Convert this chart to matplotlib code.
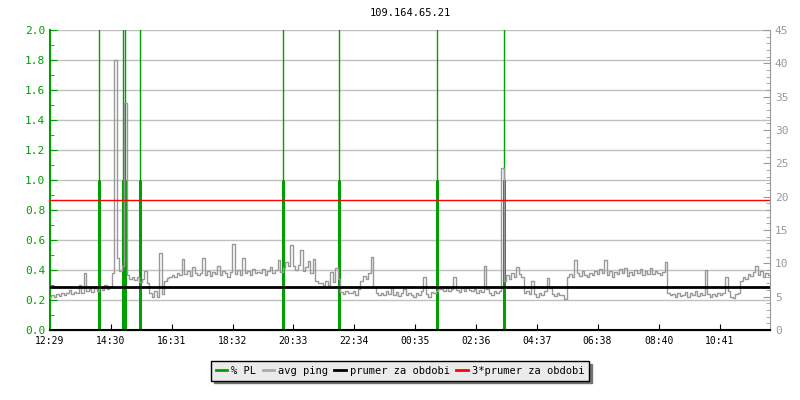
import numpy as np
import matplotlib
matplotlib.use("Agg")
import matplotlib.pyplot as plt
from matplotlib.lines import Line2D
from matplotlib.ticker import MultipleLocator

plt.rcParams['font.family'] = 'DejaVu Sans Mono'
plt.rcParams['font.size'] = 7

# Casove osy: minuty od 12:29, vzorek kazdych 5 minut
sample_step = 5
tick_labels = ["12:29", "14:30", "16:31", "18:32", "20:33", "22:34",
               "00:35", "02:36", "04:37", "06:38", "08:40", "10:41"]
tick_minutes = [0, 121, 242, 363, 484, 605, 726, 847, 968, 1089, 1211, 1332]

# avg ping [ms], jeden radek = jedna hodina
ping = [
    5.0, 5.3, 4.9, 5.4, 5.1, 5.6, 5.2, 5.5, 6.0, 5.4, 5.7, 5.5,     # 12:29
    6.7, 5.6, 8.5, 5.8, 6.1, 5.7, 6.3, 5.9, 6.5, 6.0, 6.8, 6.2,     # 13:29
    6.4, 8.6, 40.5, 10.8, 8.9, 9.6, 34.0, 8.2, 7.7, 8.0, 7.5, 7.9,  # 14:29
    7.2, 7.6, 8.8, 7.0, 5.6, 5.0, 5.8, 4.9, 11.5, 5.4, 7.3, 7.8,    # 15:29
    7.9, 8.3, 8.0, 8.6, 8.2, 10.6, 8.4, 8.8, 8.1, 9.5, 8.5, 8.3,    # 16:29
    8.6, 10.8, 8.3, 8.9, 8.1, 8.7, 8.4, 9.6, 8.2, 8.8, 8.5, 8.0,    # 17:29
    8.7, 12.9, 8.4, 9.0, 8.2, 10.8, 8.6, 8.9, 8.3, 9.2, 8.5, 8.7,   # 18:29
    8.5, 9.1, 8.3, 8.8, 9.4, 8.6, 9.0, 10.5, 8.7, 9.3, 10.2, 9.6,   # 19:29
    12.7, 9.6, 9.0, 9.8, 12.0, 8.8, 9.4, 10.3, 8.6, 10.6, 7.4, 7.0, # 20:29
    7.0, 6.6, 7.3, 6.8, 8.7, 7.2, 9.3, 7.6, 5.7, 5.4, 5.9, 5.5,     # 21:29
    5.5, 5.8, 5.3, 6.2, 7.4, 8.1, 7.6, 8.6, 10.9, 6.4, 5.6, 5.2,    # 22:29
    5.6, 5.2, 5.9, 5.4, 6.3, 5.3, 5.7, 5.1, 5.5, 6.1, 5.2, 5.6,     # 23:29
    5.3, 4.9, 5.6, 5.2, 5.8, 8.0, 5.4, 5.0, 5.7, 5.5, 5.9, 6.2,     # 00:29
    6.1, 5.8, 6.4, 5.9, 6.2, 7.9, 6.0, 5.7, 6.3, 5.9, 6.5, 6.0,     # 01:29
    5.8, 6.2, 5.5, 6.0, 5.7, 9.6, 6.1, 5.6, 5.3, 5.9, 5.5, 5.8,     # 02:29
    24.3, 7.3, 8.2, 7.6, 8.6, 7.9, 9.5, 8.4, 8.0, 5.5, 5.8, 5.4,    # 03:29
    7.3, 5.4, 5.0, 5.6, 5.2, 5.8, 7.8, 6.3, 5.4, 5.1, 5.5, 5.2,     # 04:29
    5.2, 4.7, 7.9, 8.4, 8.0, 10.5, 8.6, 8.1, 8.8, 8.3, 7.9, 8.5,    # 05:29
    8.2, 8.8, 8.4, 9.2, 8.6, 10.5, 8.3, 8.9, 8.0, 8.7, 8.4, 9.1,    # 06:29
    8.5, 9.3, 8.1, 8.7, 8.3, 9.0, 8.6, 9.2, 8.2, 8.8, 8.4, 9.3,     # 07:29
    8.4, 8.9, 8.6, 8.3, 8.7, 10.2, 5.6, 5.2, 5.4, 5.0, 5.5, 5.1,    # 08:29
    5.3, 5.7, 5.0, 5.5, 5.2, 5.8, 5.1, 5.6, 5.3, 9.0, 5.4, 5.0,     # 09:29
    5.4, 5.1, 5.6, 5.2, 5.5, 7.9, 5.8, 5.0, 4.8, 5.4, 5.6, 7.4,     # 10:29
    8.0, 7.6, 8.4, 8.1, 8.7, 9.6, 8.3, 8.8, 7.9, 8.6, 8.2,          # 11:29
]
ping_t = np.arange(len(ping)) * sample_step

# % PL - udalosti ztraty paketu (minuty od zacatku)
pl_times = [97, 146, 150, 179, 463, 574, 769, 903]
pl_peak = [100, 100, 100, 100, 100, 100, 100, 100]
pl_level = [1.0, 1.0, 1.0, 1.0, 1.0, 1.0, 1.0, 1.0]

prumer = 6.5  # prumer za obdobi [ms]

green = '#00a000'
gray = '#999999'

fig = plt.figure(figsize=(8, 4), dpi=100)
ax = fig.add_axes([0.0625, 0.175, 0.9, 0.75])
ax2 = ax.twinx()

# % PL
ax.vlines(pl_times, 0, pl_peak, color=green, lw=1)
ax.vlines(pl_times, 0, pl_level, color=green, lw=2.2)

# ping
ax2.plot(ping_t, ping, color=gray, lw=1, drawstyle='steps-mid')
ax2.axhline(prumer, color='black', lw=2)
ax2.axhline(3 * prumer, color='red', lw=1)

ax.set_xlim(0, 1432)
ax.set_ylim(0, 2.0)
ax2.set_ylim(0, 45)

ax.set_xticks(tick_minutes)
ax.set_xticklabels(tick_labels)
ax.yaxis.set_major_locator(MultipleLocator(0.2))
ax.yaxis.set_minor_locator(MultipleLocator(0.1))
ax.yaxis.set_major_formatter(matplotlib.ticker.FormatStrFormatter('%.1f'))
ax2.yaxis.set_major_locator(MultipleLocator(5))
ax2.yaxis.set_minor_locator(MultipleLocator(1))

ax.grid(axis='y', color='#c0c0c0', lw=1)
ax.set_axisbelow(True)

ax.tick_params(axis='x', direction='in', length=4, color='black', labelsize=7, pad=4)
ax.tick_params(axis='y', which='major', direction='in', length=5, color=green,
               labelcolor=green, labelsize=8)
ax.tick_params(axis='y', which='minor', direction='in', length=3, color=green)
ax2.tick_params(axis='y', which='major', direction='in', length=5, color=gray,
                labelcolor=gray, labelsize=8)
ax2.tick_params(axis='y', which='minor', direction='in', length=3, color=gray)

for a in (ax, ax2):
    a.spines['top'].set_visible(False)
ax.spines['left'].set_color(green)
ax.spines['left'].set_linewidth(1.5)
ax2.spines['right'].set_color(gray)
ax2.spines['left'].set_visible(False)
ax.spines['right'].set_visible(False)
ax2.spines['bottom'].set_color('black')
ax2.spines['bottom'].set_linewidth(1.5)

ax.set_title("109.164.65.21", fontsize=7.5, pad=10)

handles = [Line2D([], [], color=green, lw=2),
           Line2D([], [], color='#aaaaaa', lw=2),
           Line2D([], [], color='black', lw=2),
           Line2D([], [], color='red', lw=2)]
labels = ["% PL", "avg ping", "prumer za obdobi", "3*prumer za obdobi"]
leg = fig.legend(handles, labels, loc='center', bbox_to_anchor=(0.5, 0.0725),
                 ncol=4, frameon=True, fancybox=False, edgecolor='black',
                 facecolor='#ebebeb', framealpha=1,
                 shadow={'color': '0.45', 'alpha': 1},
                 handlelength=1.1, handletextpad=0.4, columnspacing=0.6,
                 borderpad=0.45, fontsize=7.5)
leg.get_frame().set_linewidth(1)

fig.savefig("out.png", dpi=100)
